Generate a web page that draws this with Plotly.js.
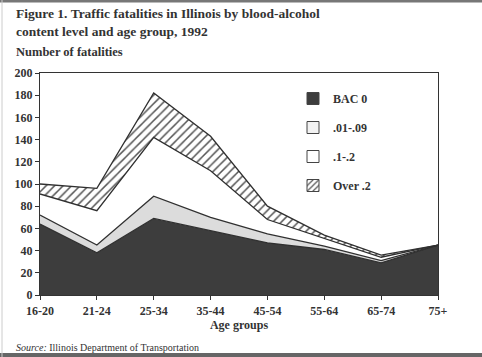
<!DOCTYPE html>
<html>
<head>
<meta charset="utf-8">
<script src="https://cdn.plot.ly/plotly-3.0.1.min.js"></script>
<style>html,body{margin:0;padding:0;background:#fff;}#chart{width:482px;height:357px;}</style>
</head>
<body>
<div id="chart"></div>
<script>
var ageGroups = ['16-20', '21-24', '25-34', '35-44', '45-54', '55-64', '65-74', '75+'];
var seriesNames = ['BAC 0', '.01-.09', '.1-.2', 'Over .2'];
var bac0     = [64, 38, 69, 58, 47, 41, 29, 45];
var bac01_09 = [8, 7, 20, 12, 8, 3, 2, 0];
var bac1_2   = [19, 31, 53, 42, 13, 7, 3, 0];
var over2    = [9, 20, 40, 31, 12, 3, 2, 0];
var yTicks   = [0, 20, 40, 60, 80, 100, 120, 140, 160, 180, 200];

var serif = 'Liberation Serif, Times New Roman, serif';
var ink = '#333333';

// pixel -> paper helpers (plot area: x 40..438, y 73..295)
function px(x){ return (x - 40) / 398; }
function py(y){ return (295 - y) / 222; }

var values = [bac0, bac01_09, bac1_2, over2];
var fills = ['#3d3d3d', '#dcdcdc', '#ffffff', '#ffffff'];
var legendFills = ['#3d3d3d', '#f2f2f2', '#ffffff', '#ffffff'];
var traces = values.map(function(v, i){
  var t = {
    type: 'scatter', mode: 'lines', x: ageGroups, y: v,
    name: seriesNames[i], stackgroup: 'one', showlegend: false,
    line: {color: '#303030', width: 1.3},
    fillcolor: fills[i], hoverinfo: 'skip'
  };
  if (i === 3) {
    t.fillpattern = {shape: '/', fgcolor: '#555555', bgcolor: '#ffffff', size: 6, solidity: 0.25};
  }
  return t;
});
// legend swatches (empty bar traces, so the legend shows boxes)
seriesNames.forEach(function(n, i){
  var m = {color: legendFills[i], line: {color: '#444', width: 1}};
  if (i === 3) m.pattern = {shape: '/', fgcolor: '#555', bgcolor: '#fff', size: 5, solidity: 0.3};
  traces.push({type: 'bar', x: [null], y: [null], name: n, legendgroup: 'g' + i,
               marker: m, showlegend: true, hoverinfo: 'skip'});
});

var layout = {
  width: 482, height: 357,
  margin: {l: 40, r: 44, t: 73, b: 62},
  paper_bgcolor: '#ffffff', plot_bgcolor: '#ffffff',
  font: {family: serif, color: ink, size: 12},
  xaxis: {
    type: 'category', range: [0, 7],
    showgrid: false, zeroline: false,
    showline: true, linecolor: '#333', linewidth: 1.2, mirror: true,
    ticks: 'outside', ticklen: 4, tickcolor: '#333',
    tickfont: {family: serif, size: 12, color: ink, weight: 'bold'},
    title: {text: '<b>Age groups</b>', font: {family: serif, size: 12, color: ink}, standoff: 1}
  },
  yaxis: {
    range: [0, 200], tickvals: yTicks,
    showgrid: false, zeroline: false,
    showline: true, linecolor: '#333', linewidth: 1.2, mirror: true,
    ticks: 'outside', ticklen: 4, tickcolor: '#333',
    tickfont: {family: serif, size: 12, color: ink, weight: 'bold'}
  },
  showlegend: true,
  legend: {
    x: px(293), y: py(84), xanchor: 'left', yanchor: 'top',
    bgcolor: 'rgba(0,0,0,0)', borderwidth: 0,
    traceorder: 'grouped', tracegroupgap: 10, itemwidth: 30,
    font: {family: serif, size: 12, color: ink, weight: 'bold'}
  },
  annotations: [
    {text: '<b>Figure 1. Traffic fatalities in Illinois by blood-alcohol<br>content level and age group, 1992</b>',
     xref: 'paper', yref: 'paper', x: px(14), y: py(4), xanchor: 'left', yanchor: 'top', align: 'left',
     showarrow: false, font: {family: serif, size: 13.5, color: ink}},
    {text: '<b>Number of fatalities</b>', xref: 'paper', yref: 'paper',
     x: px(14), y: py(52), xanchor: 'left', yanchor: 'middle', showarrow: false,
     font: {family: serif, size: 12.5, color: ink}},
    {text: '<i>Source:</i> Illinois Department of Transportation', xref: 'paper', yref: 'paper',
     x: px(14), y: py(347), xanchor: 'left', yanchor: 'middle', showarrow: false,
     font: {family: serif, size: 10, color: ink}}
  ],
  shapes: [
    {type: 'line', xref: 'paper', yref: 'paper', x0: px(0), x1: px(482), y0: py(1), y1: py(1),
     line: {color: '#777', width: 3}},
    {type: 'line', xref: 'paper', yref: 'paper', x0: px(0), x1: px(482), y0: py(355), y1: py(355),
     line: {color: '#666', width: 4}},
    {type: 'line', xref: 'paper', yref: 'paper', x0: px(2), x1: px(2), y0: py(0), y1: py(357),
     line: {color: '#ccc', width: 1}}
  ]
};

Plotly.newPlot('chart', traces, layout, {displayModeBar: false, staticPlot: true});
</script>
</body>
</html>
